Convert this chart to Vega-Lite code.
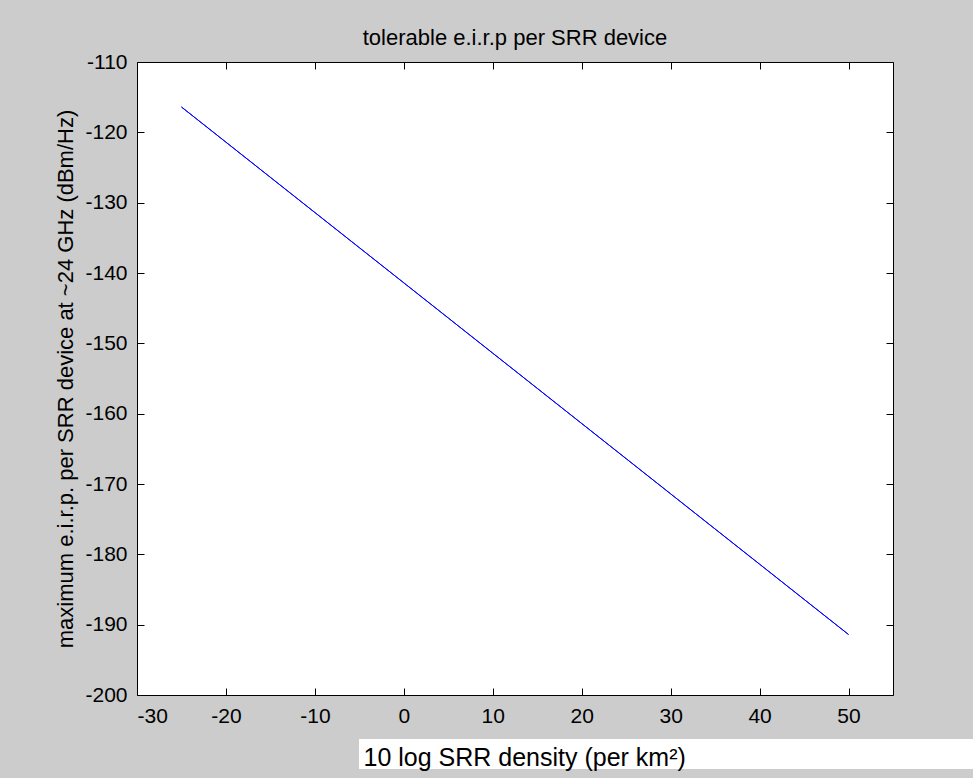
{
  "$schema": "https://vega.github.io/schema/vega-lite/v6.json",
  "width": 756,
  "height": 633,
  "autosize": "none",
  "padding": {"left": 137, "top": 62, "right": 80, "bottom": 83},
  "background": "#cccccc",
  "title": {
    "text": "tolerable e.i.r.p per SRR device",
    "fontSize": 22,
    "fontWeight": "normal",
    "font": "Liberation Sans",
    "color": "black",
    "anchor": "middle",
    "baseline": "alphabetic",
    "offset": 19,
    "dy": 35
  },
  "data": {
    "values": [
      {"x": -25, "y": -116.4},
      {"x": -20, "y": -121.4},
      {"x": -15, "y": -126.4},
      {"x": -10, "y": -131.4},
      {"x": -5, "y": -136.4},
      {"x": 0, "y": -141.4},
      {"x": 5, "y": -146.4},
      {"x": 10, "y": -151.4},
      {"x": 15, "y": -156.4},
      {"x": 20, "y": -161.4},
      {"x": 25, "y": -166.4},
      {"x": 30, "y": -171.4},
      {"x": 35, "y": -176.4},
      {"x": 40, "y": -181.4},
      {"x": 45, "y": -186.4},
      {"x": 50, "y": -191.4}
    ]
  },
  "layer": [
    {
      "data": {"values": [{"box": "xlabel"}]},
      "mark": {"type": "rect", "color": "white", "clip": false},
      "encoding": {
        "x": {"datum": -5.04, "type": "quantitative", "scale": {"domain": [-30, 55], "nice": false, "zero": false}, "axis": null},
        "x2": {"datum": 64.5},
        "y": {"datum": -206.26, "type": "quantitative", "scale": {"domain": [-200, -110], "nice": false, "zero": false}, "axis": null},
        "y2": {"datum": -210.53}
      }
    },
    {
      "mark": {"type": "line", "color": "#0000ff", "strokeWidth": 1},
      "encoding": {
        "x": {
          "field": "x",
          "type": "quantitative",
          "scale": {"domain": [-30, 55], "nice": false, "zero": false},
          "axis": {
            "orient": "bottom",
            "values": [-30, -20, -10, 0, 10, 20, 30, 40, 50],
            "labelExpr": "toString(datum.value)",
            "labelPadding": 17,
            "labelBaseline": "top",
            "title": "10 log SRR density (per km²)",
            "titleFontSize": 25,
            "titleX": 226,
            "titleY": 70,
            "titleAlign": "left",
            "titleBaseline": "alphabetic",
            "zindex": 1
          }
        },
        "y": {
          "field": "y",
          "type": "quantitative",
          "scale": {"domain": [-200, -110], "nice": false, "zero": false},
          "axis": {
            "orient": "left",
            "values": [-200, -190, -180, -170, -160, -150, -140, -130, -120, -110],
            "labelExpr": "toString(datum.value)",
            "labelPadding": 17,
            "labelBaseline": "middle",
            "title": "maximum e.i.r.p. per SRR device at ~24 GHz (dBm/Hz)",
            "titleFontSize": 22,
            "titleAngle": -90,
            "titleX": -65,
            "titleY": 316.5,
            "titleAlign": "center",
            "titleBaseline": "alphabetic"
          }
        }
      }
    },
    {
      "mark": {"type": "line", "color": "#0000ff", "strokeWidth": 1},
      "encoding": {
        "x": {
          "field": "x",
          "type": "quantitative",
          "scale": {"domain": [-30, 55], "nice": false, "zero": false},
          "axis": {
            "orient": "top",
            "values": [-30, -20, -10, 0, 10, 20, 30, 40, 50],
            "labels": false,
            "title": null
          }
        },
        "y": {
          "field": "y",
          "type": "quantitative",
          "scale": {"domain": [-200, -110], "nice": false, "zero": false},
          "axis": {
            "orient": "right",
            "values": [-200, -190, -180, -170, -160, -150, -140, -130, -120, -110],
            "labels": false,
            "title": null
          }
        }
      }
    }
  ],
  "resolve": {"axis": {"x": "independent", "y": "independent"}},
  "config": {
    "view": {"fill": "white", "stroke": null},
    "axis": {
      "grid": false,
      "domainColor": "black",
      "domainWidth": 1,
      "tickColor": "black",
      "tickWidth": 1,
      "tickSize": -7,
      "labelColor": "black",
      "labelFont": "Liberation Sans",
      "labelFontSize": 21,
      "titleColor": "black",
      "titleFont": "Liberation Sans",
      "titleFontWeight": "normal"
    }
  }
}
